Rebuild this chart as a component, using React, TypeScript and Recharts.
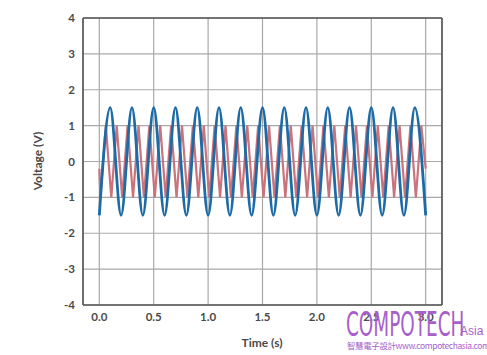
import React from 'react';
import {
  LineChart,
  Line,
  XAxis,
  YAxis,
  CartesianGrid,
  ReferenceLine,
} from 'recharts';

// blue sine: turning points every 0.1 s
const blueTimes = [
  0, 0.1, 0.2, 0.3, 0.4, 0.5, 0.6, 0.7, 0.8, 0.9, 1.0, 1.1, 1.2, 1.3, 1.4, 1.5,
  1.6, 1.7, 1.8, 1.9, 2.0, 2.1, 2.2, 2.3, 2.4, 2.5, 2.6, 2.7, 2.8, 2.9, 3.0,
];
const blueValues = [
  -1.5, 1.5, -1.5, 1.5, -1.5, 1.5, -1.5, 1.5, -1.5, 1.5, -1.5, 1.5, -1.5, 1.5, -1.5, 1.5,
  -1.5, 1.5, -1.5, 1.5, -1.5, 1.5, -1.5, 1.5, -1.5, 1.5, -1.5, 1.5, -1.5, 1.5, -1.5,
];

// red triangle: corners
const redTimes = [
  0, 0.01, 0.06, 0.11, 0.16, 0.21, 0.26, 0.31, 0.36, 0.41, 0.46, 0.51, 0.56, 0.61, 0.66,
  0.71, 0.76, 0.81, 0.86, 0.91, 0.96, 1.01, 1.06, 1.11, 1.16, 1.21, 1.26, 1.31, 1.36,
  1.41, 1.46, 1.51, 1.56, 1.61, 1.66, 1.71, 1.76, 1.81, 1.86, 1.91, 1.96, 2.01, 2.06,
  2.11, 2.16, 2.21, 2.26, 2.31, 2.36, 2.41, 2.46, 2.51, 2.56, 2.61, 2.66, 2.71, 2.76,
  2.81, 2.86, 2.91, 2.96, 3.0,
];
const redValues = [
  -0.2, -1, 1, -1, 1, -1, 1, -1, 1, -1, 1, -1, 1, -1, 1,
  -1, 1, -1, 1, -1, 1, -1, 1, -1, 1, -1, 1, -1, 1,
  -1, 1, -1, 1, -1, 1, -1, 1, -1, 1, -1, 1, -1, 1,
  -1, 1, -1, 1, -1, 1, -1, 1, -1, 1, -1, 1, -1, 1,
  -1, 1, -1, 1, -0.2,
];

const xTicks = [0, 0.5, 1.0, 1.5, 2.0, 2.5, 3.0];
const yTicks = [-4, -3, -2, -1, 0, 1, 2, 3, 4];

const blueData = blueTimes.map((t, i) => ({ t, v: blueValues[i] }));
const redData = redTimes.map((t, i) => ({ t, v: redValues[i] }));

const tickStyle = {
  fill: '#4a4a4a',
  fontSize: 11.5,
  fontWeight: 700,
  fontFamily: 'Lato, "Noto Sans", sans-serif',
};

const purple = '#a65fca';

const App = () => {
  return (
    <div style={{ position: 'fixed', left: 0, top: 0, width: 487, height: 355, background: '#fff', overflow: 'hidden' }}>
      <LineChart
        width={487}
        height={355}
        margin={{ top: 18, right: 45, bottom: 20, left: 43 }}
      >
        <CartesianGrid stroke="#a9a9a9" strokeWidth={1.2} />
        <XAxis
          type="number"
          dataKey="t"
          domain={[-0.15, 3.15]}
          ticks={xTicks}
          tickFormatter={(v: number) => v.toFixed(1)}
          tick={tickStyle}
          tickLine={false}
          axisLine={{ stroke: '#555', strokeWidth: 1.6 }}
          height={30}
          allowDataOverflow
        />
        <YAxis
          type="number"
          domain={[-4, 4]}
          ticks={yTicks}
          tick={tickStyle}
          tickLine={false}
          axisLine={{ stroke: '#555', strokeWidth: 1.6 }}
          width={40}
        />
        <ReferenceLine y={4} stroke="#555" strokeWidth={1.6} />
        <ReferenceLine x={3.15} stroke="#555" strokeWidth={1.6} />
        <Line
          data={redData}
          dataKey="v"
          type="linear"
          stroke="#c9737c"
          strokeWidth={2.2}
          dot={false}
          isAnimationActive={false}
        />
        <Line
          data={blueData}
          dataKey="v"
          type="monotone"
          stroke="#1c6aa6"
          strokeWidth={2.8}
          dot={false}
          isAnimationActive={false}
        />
      </LineChart>
      <div
        style={{
          position: 'absolute',
          left: 37,
          top: 161,
          transform: 'translate(-50%, -50%) rotate(-90deg)',
          whiteSpace: 'nowrap',
          fontFamily: 'Lato, "Noto Sans", sans-serif',
          fontSize: 12,
          fontWeight: 700,
          color: '#4a4a4a',
        }}
      >
        Voltage (V)
      </div>
      <div
        style={{
          position: 'absolute',
          left: 262,
          top: 342,
          transform: 'translate(-50%, -50%)',
          whiteSpace: 'nowrap',
          fontFamily: 'Lato, "Noto Sans", sans-serif',
          fontSize: 12,
          fontWeight: 700,
          color: '#4a4a4a',
        }}
      >
        Time (s)
      </div>
      {/* watermark */}
      <div
        style={{
          position: 'absolute',
          left: 346,
          top: 308,
          whiteSpace: 'nowrap',
          fontFamily: '"Liberation Sans Narrow", "DejaVu Sans Condensed", sans-serif',
          color: purple,
          lineHeight: 1,
          fontSize: 33,
          transform: 'scaleX(0.62)',
          transformOrigin: 'left top',
        }}
      >
        COMPOTECH
      </div>
      <div
        style={{
          position: 'absolute',
          left: 460,
          top: 325,
          fontFamily: '"Liberation Sans Narrow", sans-serif',
          color: purple,
          fontSize: 12,
          lineHeight: 1,
        }}
      >
        Asia
      </div>
      <div
        style={{
          position: 'absolute',
          left: 347,
          top: 341,
          whiteSpace: 'nowrap',
          fontFamily: '"Noto Sans CJK TC", sans-serif',
          color: purple,
          fontSize: 8.5,
          lineHeight: 1,
          letterSpacing: -0.4,
        }}
      >
        智慧電子設計www.compotechasia.com
      </div>
    </div>
  );
};

export default App;
